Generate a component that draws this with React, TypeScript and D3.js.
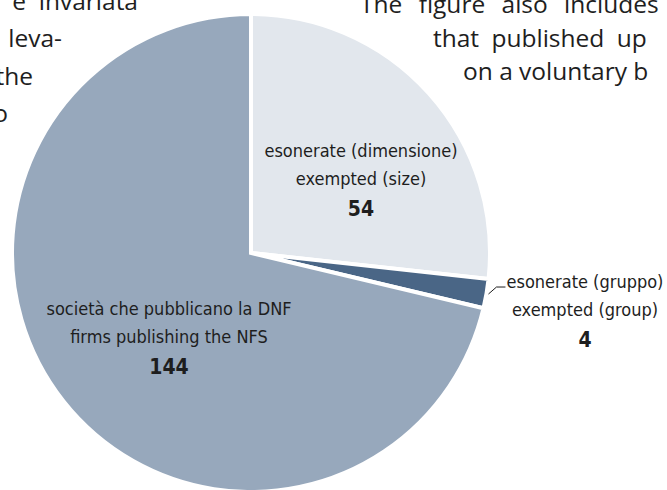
import * as d3 from "d3";

const categories = ["esonerate (dimensione)", "esonerate (gruppo)", "società che pubblicano la DNF"];
const categoriesEn = ["exempted (size)", "exempted (group)", "firms publishing the NFS"];
const values = [54, 4, 144];
const colors = ["#e2e7ed", "#4a6686", "#97a8bc"];

// page text around the figure (cropped)
const leftLines = ["e  invariata", "leva-", "the", "o"];
const rightLines = ["The figure also includes", "that published up", "on a voluntary b"];

const W = 667;
const H = 490;
const cx = 251;
const cy = 253;
const R = 239;

export default function App() {
  const pie = d3
    .pie<number>()
    .sort(null)
    .startAngle(0)
    .endAngle(2 * Math.PI)
    .value((d) => d);
  const arcs = pie(values);
  const arc = d3.arc<d3.PieArcDatum<number>>().innerRadius(0).outerRadius(R);

  const labelFont = "'DejaVu Sans Condensed', 'DejaVu Sans', sans-serif";
  const pageFont = "'Open Sans', 'Noto Sans', sans-serif";

  // label anchors relative to pie centre
  const labelPos = [
    { x: 110, y: -96, anchor: "middle" },
    { x: 334, y: 35, anchor: "middle" },
    { x: -82, y: 62, anchor: "middle" },
  ];

  const small = arcs[1];
  const mid = (small.startAngle + small.endAngle) / 2;
  const p0 = [Math.sin(mid) * (R + 2), -Math.cos(mid) * (R + 2)];
  const leader = d3.line()([
    p0 as [number, number],
    [p0[0] + 8, p0[1] - 7],
    [p0[0] + 17, p0[1] - 7],
  ]);

  const leftX = [138, 62, 33, 8];
  const leftY = [10, 47, 85, 122];
  const rightX = [360, 433, 463];
  const rightY = [13, 47, 80];
  const rightSpacing = [10, 6, 0];

  return (
    <svg
      width={W}
      height={H}
      style={{ position: "absolute", left: 0, top: 0, background: "#fff" }}
    >
      <g fontFamily={pageFont} fontSize={24.5} fill="#1e1e1e">
        {leftLines.map((t, i) => (
          <text key={"l" + i} x={leftX[i]} y={leftY[i]} textAnchor="end" xmlSpace="preserve">
            {t}
          </text>
        ))}
        {rightLines.map((t, i) => (
          <text key={"r" + i} x={rightX[i]} y={rightY[i]} wordSpacing={rightSpacing[i]} xmlSpace="preserve">
            {t}
          </text>
        ))}
      </g>
      <g transform={`translate(${cx},${cy})`}>
        {arcs.map((a, i) => (
          <path key={i} d={arc(a) || ""} fill={colors[i]} stroke="#fff" strokeWidth={4} strokeLinejoin="miter" />
        ))}
        <path d={leader || ""} fill="none" stroke="#1e1e1e" strokeWidth={1} />
        {arcs.map((a, i) => (
          <text
            key={"t" + i}
            x={labelPos[i].x}
            y={labelPos[i].y}
            textAnchor={labelPos[i].anchor}
            fontFamily={labelFont}
            fontSize={18}
            fill="#1e1e1e"
          >
            <tspan x={labelPos[i].x} dy={0}>{categories[i]}</tspan>
            <tspan x={labelPos[i].x} dy={28}>{categoriesEn[i]}</tspan>
            <tspan x={labelPos[i].x} dy={31} fontWeight="bold" fontSize={21}>
              {a.data}
            </tspan>
          </text>
        ))}
      </g>
    </svg>
  );
}
